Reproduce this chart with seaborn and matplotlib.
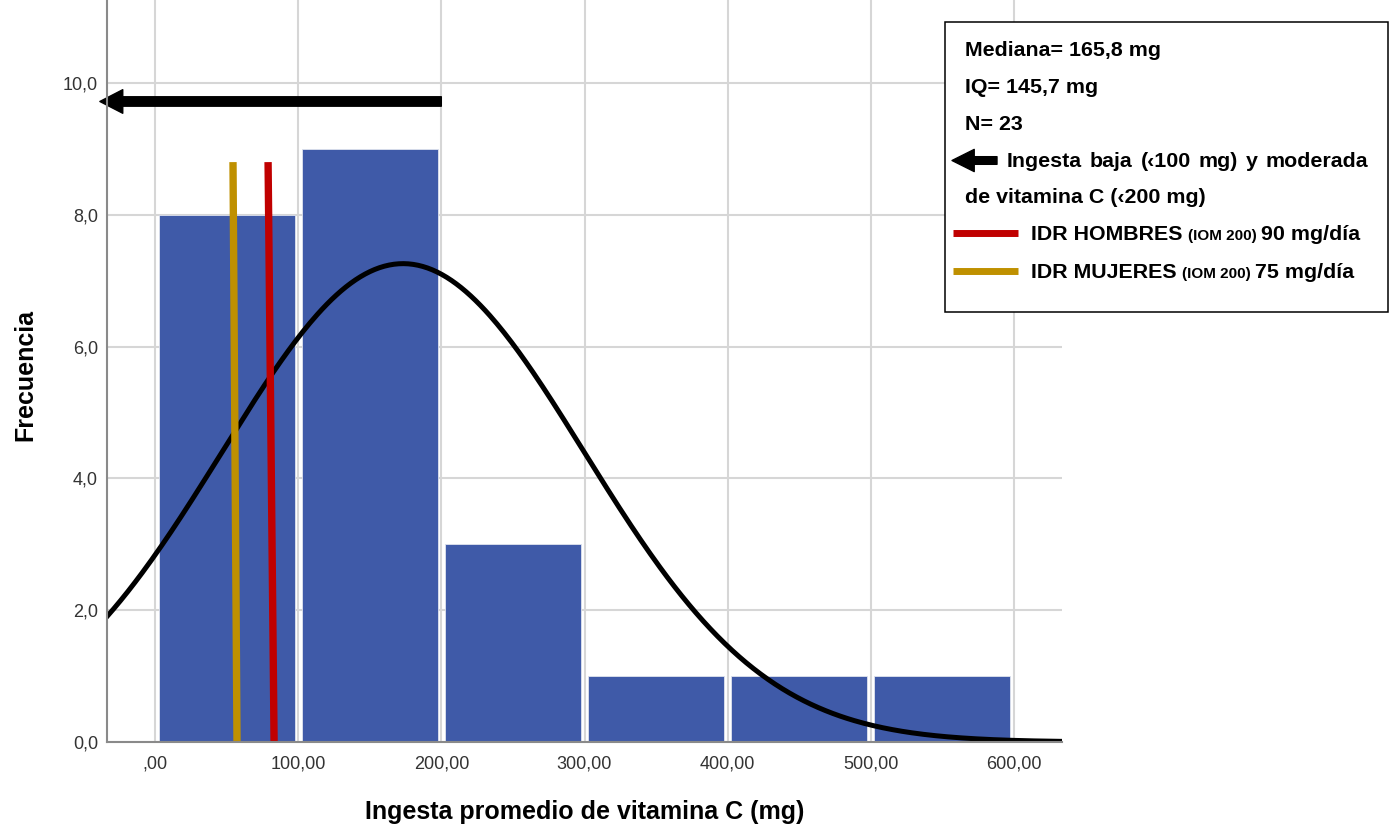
import numpy as np
import pandas as pd
import matplotlib.pyplot as plt
import seaborn as sns
from matplotlib.patches import Rectangle, FancyArrowPatch
from matplotlib.lines import Line2D

# histogram of average vitamin C intake
bin_edges = [0, 100, 200, 300, 400, 500, 600]
bin_centers = [50, 150, 250, 350, 450, 550]
counts = [8, 9, 3, 1, 1, 1]

# fitted normal curve
curve_mean = 173.3
curve_sd = 126.4
n_total = 23

# reference lines (as drawn in the original, slightly slanted)
idr_hombres_x = [79.0, 83.2]
idr_mujeres_x = [54.5, 57.3]
idr_y = [8.8, 0.0]

# arrow for low / moderate intake
arrow_from = 200
arrow_to = -38.5
arrow_y = 9.72

xticks = [0, 100, 200, 300, 400, 500, 600]
xtick_labels = [',00', '100,00', '200,00', '300,00', '400,00', '500,00', '600,00']
yticks = [0, 2, 4, 6, 8, 10]
ytick_labels = ['0,0', '2,0', '4,0', '6,0', '8,0', '10,0']

bar_color = '#3F5AA8'
red = '#C00000'
gold = '#BF9000'

sns.set_style('white')
plt.rcParams['font.family'] = ['Liberation Sans', 'DejaVu Sans']

W, H = 1395, 827
fig = plt.figure(figsize=(W / 100, H / 100), dpi=100)
ax = fig.add_axes([107 / W, 85 / H, (1062 - 107) / W, 742 / H])

df = pd.DataFrame({'x': bin_centers, 'n': counts})
sns.histplot(data=df, x='x', weights='n', bins=bin_edges, shrink=0.95,
             color=bar_color, alpha=1, edgecolor='#dfe3ee', linewidth=0.6,
             ax=ax, zorder=2)

xs = np.linspace(-34, 634, 400)
ys = n_total * 100 / (curve_sd * np.sqrt(2 * np.pi)) * np.exp(-0.5 * ((xs - curve_mean) / curve_sd) ** 2)
sns.lineplot(x=xs, y=ys, color='black', linewidth=3.6, ax=ax, zorder=3)

ax.plot(idr_mujeres_x, idr_y, color=gold, linewidth=5.3, solid_capstyle='butt', zorder=4)
ax.plot(idr_hombres_x, idr_y, color=red, linewidth=5.3, solid_capstyle='butt', zorder=4)

ax.annotate('', xy=(arrow_to, arrow_y), xytext=(arrow_from, arrow_y),
            arrowprops=dict(arrowstyle='simple,head_length=1.65,head_width=1.7,tail_width=0.68',
                            color='black', shrinkA=0, shrinkB=0, mutation_scale=10),
            annotation_clip=False, zorder=5)

ax.set_xlim(-33.5, 633.5)
ax.set_ylim(0, 11.26)
ax.set_xticks(xticks)
ax.set_xticklabels(xtick_labels)
ax.set_yticks(yticks)
ax.set_yticklabels(ytick_labels)
ax.tick_params(axis='both', length=0, labelsize=13, labelcolor='#333333')
ax.tick_params(axis='y', pad=6.5)
ax.tick_params(axis='x', pad=9.5)
ax.grid(True, color='#d6d6d6', linewidth=1.5)
ax.set_axisbelow(True)
for side in ['top', 'right']:
    ax.spines[side].set_visible(False)
for side in ['left', 'bottom']:
    ax.spines[side].set_color('#8a8a8a')
    ax.spines[side].set_linewidth(1.5)
    ax.spines[side].set_zorder(6)

ax.set_xlabel('Ingesta promedio de vitamina C (mg)', fontsize=18, fontweight='bold', color='black')
ax.set_ylabel('Frecuencia', fontsize=18, fontweight='bold', color='black')
ax.xaxis.label.set_va('center')
ax.xaxis.set_label_coords(0.5, (742 - 812) / 742)
ax.yaxis.label.set_va('center')
ax.yaxis.set_label_coords((25 - 107) / 955, 0.495)


# legend / summary box, placed in figure pixels
def fx(px):
    return px / W


def fy(py):
    return 1 - py / H


fig.add_artist(Rectangle((fx(945), fy(312)), fx(1388) - fx(945), fy(22) - fy(312),
                         transform=fig.transFigure, facecolor='white',
                         edgecolor='black', linewidth=1.1, zorder=2))

txt = dict(fontsize=15.4, fontweight='bold', va='baseline', color='black', zorder=3)
renderer = fig.canvas.get_renderer()

fig.text(fx(965), fy(56), 'Mediana= 165,8 mg', **txt)
fig.text(fx(965), fy(93), 'IQ= 145,7 mg', **txt)
fig.text(fx(965), fy(130), 'N= 23', **txt)
fig.text(fx(965), fy(203), 'de vitamina C (\u2039200 mg)', **txt)

# justified line between 1007 and 1368 px
words = ['Ingesta', 'baja', '(\u2039100', 'mg)', 'y', 'moderada']
word_texts = [fig.text(0, fy(167), w, **txt) for w in words]
widths = [t.get_window_extent(renderer).width for t in word_texts]
gap = (1368 - 1007 - sum(widths)) / (len(words) - 1)
x = 1007
for t, w in zip(word_texts, widths):
    t.set_x(fx(x))
    x += w + gap

fig.add_artist(FancyArrowPatch((fx(997), fy(160.5)), (fx(952), fy(160.5)),
                               transform=fig.transFigure,
                               arrowstyle='simple,head_length=1.6,head_width=1.6,tail_width=0.55',
                               mutation_scale=10, color='black', shrinkA=0, shrinkB=0, zorder=4))

for row_y, color, group, value in [(240, red, 'IDR HOMBRES', '90 mg/día'),
                                   (278, gold, 'IDR MUJERES', '75 mg/día')]:
    fig.add_artist(Line2D([fx(953), fx(1018)], [fy(row_y - 7), fy(row_y - 7)],
                          transform=fig.transFigure, color=color, linewidth=5,
                          solid_capstyle='butt', zorder=4))
    t1 = fig.text(fx(1031), fy(row_y), group, **txt)
    x1 = t1.get_window_extent(renderer).x1 + 5
    t2 = fig.text(fx(x1), fy(row_y), '(IOM 200)', fontsize=11, fontweight='bold',
                  va='baseline', color='black', zorder=3)
    x2 = t2.get_window_extent(renderer).x1 + 5
    fig.text(fx(x2), fy(row_y), value, **txt)

fig.savefig('out.png', dpi=100)
